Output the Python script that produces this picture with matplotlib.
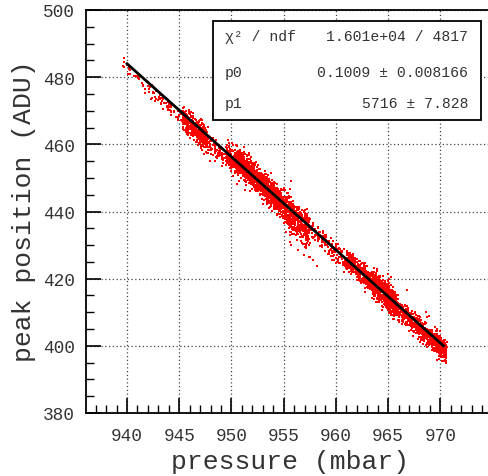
import matplotlib
matplotlib.use("Agg")
import matplotlib.pyplot as plt
from matplotlib.ticker import MultipleLocator
import numpy as np

plt.rcParams['font.family'] = ['Liberation Mono', 'DejaVu Sans Mono']

# fitted straight line, end points in (pressure, peak)
fit_p = [940.0, 970.3]
fit_y = [484.0, 400.0]

# point cloud along the fit: pressure range, number of points,
# mean offset from the line and spread (ADU)
seg_lo = [939.6, 942.0, 945.3, 947.8, 949.5, 950.5, 952.5, 955.0, 957.5, 961.0, 963.5, 965.8, 969.0]
seg_hi = [942.0, 945.3, 947.8, 950.0, 950.8, 952.5, 955.0, 957.5, 961.0, 963.5, 965.8, 969.0, 970.6]
seg_n = [25, 60, 450, 110, 150, 600, 700, 500, 150, 350, 800, 420, 420]
seg_off = [-1.2, -1.5, -1.5, -1.8, -0.5, 0.3, -0.3, -1.5, -0.5, 0.0, 0.0, -1.0, -1.0]
seg_sig = [1.0, 1.2, 1.8, 1.5, 1.7, 1.9, 1.9, 2.5, 1.5, 1.5, 2.0, 1.6, 1.5]

# stray points off the main band
out_p = [939.7, 946.0, 947.9, 956.4, 956.9, 957.5, 957.8, 958.2, 955.6, 965.0, 965.3, 966.8, 968.9, 968.6]
out_y = [484.6, 466.5, 455.0, 428.5, 427.0, 426.5, 425.5, 423.8, 431.0, 421.5, 420.5, 416.5, 409.0, 410.0]

x_ticks = [940, 945, 950, 955, 960, 965, 970, 975]
x_labels = ['940', '945', '950', '955', '960', '965', '970', '']

rng = np.random.default_rng(7)
slope = (fit_y[1] - fit_y[0]) / (fit_p[1] - fit_p[0])
px, py = [], []
for lo, hi, n, off, sig in zip(seg_lo, seg_hi, seg_n, seg_off, seg_sig):
    x = rng.uniform(lo, hi, n)
    y = fit_y[0] + slope * (x - fit_p[0]) + off + rng.normal(0, sig, n)
    px.append(x)
    py.append(y)
px = np.concatenate(px + [np.array(out_p)])
py = np.concatenate(py + [np.array(out_y)])

fig = plt.figure(figsize=(4.88, 4.77), dpi=100)
ax = fig.add_axes([86 / 488, 63 / 477, 417 / 488, 403 / 477])

ax.scatter(px, py, s=2.7, marker='s', c='#ff0000', linewidths=0, zorder=2)
ax.plot(fit_p, fit_y, color='black', lw=2, zorder=3)

ax.set_xlim(936.07, 976.0)
ax.set_ylim(380, 500)
ax.set_xticks(x_ticks)
ax.set_xticklabels(x_labels)
ax.xaxis.set_minor_locator(MultipleLocator(1))
ax.yaxis.set_major_locator(MultipleLocator(20))
ax.yaxis.set_minor_locator(MultipleLocator(5))
ax.tick_params(which='major', direction='in', length=11, width=1.2,
               labelsize=12.8, labelcolor='#333333', pad=8)
ax.tick_params(which='minor', direction='in', length=5.5, width=1)
ax.tick_params(axis='x', pad=10)
ax.grid(True, which='major', color='#444444', linestyle=(0, (1, 2)), lw=0.9)
ax.spines['right'].set_visible(False)
for s in ['left', 'bottom', 'top']:
    ax.spines[s].set_linewidth(1.3)

fig.text(290 / 488, 1 - 462 / 477, 'pressure (mbar)', fontsize=19,
         ha='center', va='center', color='#333333')
fig.text(24 / 488, 1 - 211 / 477, 'peak position (ADU)', fontsize=19,
         rotation=90, ha='center', va='center', color='#333333')

# fit statistics box
box = plt.Rectangle((213 / 488, 1 - 121 / 477), 268 / 488, 99 / 477,
                    transform=fig.transFigure, facecolor='white',
                    edgecolor='black', lw=1.3, zorder=5)
fig.patches.append(box)
rows = [('χ² / ndf', '1.601e+04 / 4817'),
        ('p0', '0.1009 ± 0.008166'),
        ('p1', '5716 ± 7.828')]
row_y = [37, 73, 104]
for (left, right), yy in zip(rows, row_y):
    fig.text(225 / 488, 1 - yy / 477, left, fontsize=10.6, ha='left',
             va='center', color='#333333', zorder=6)
    fig.text(468 / 488, 1 - yy / 477, right, fontsize=10.6, ha='right',
             va='center', color='#333333', zorder=6)

fig.savefig('out.png', dpi=100)
